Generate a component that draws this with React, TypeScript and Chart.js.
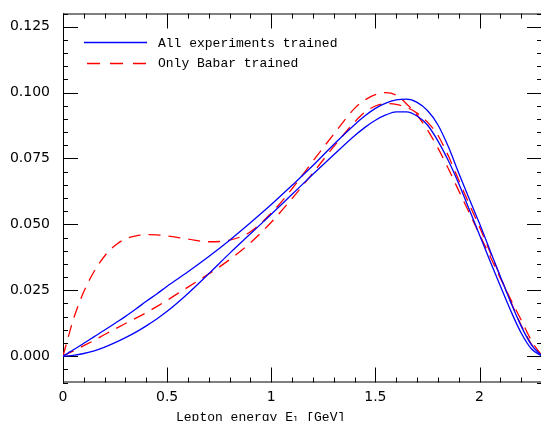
import React, { useEffect, useRef } from "react";
import { Chart, registerables } from "chart.js";

Chart.register(...registerables);

// ---- data ----
const energy = [
  0, 0.025, 0.05, 0.1, 0.15, 0.2, 0.25, 0.3, 0.35, 0.4, 0.45, 0.5, 0.6, 0.7, 0.8, 0.9, 1.0, 1.1, 1.2, 1.3,
  1.4, 1.45, 1.5, 1.55, 1.6, 1.65, 1.7, 1.75, 1.8, 1.85, 1.9, 1.95, 2.0, 2.05, 2.1, 2.15, 2.2, 2.25, 2.3,
];

const allTrainedUpper = [
  0, 0.0012, 0.0024, 0.0049, 0.0074, 0.0099, 0.0125, 0.0151, 0.0179, 0.0208, 0.0236, 0.0265, 0.032, 0.0378,
  0.044, 0.0506, 0.0575, 0.0648, 0.0723, 0.0803, 0.0878, 0.0912, 0.094, 0.096, 0.0972, 0.0975, 0.0963,
  0.0932, 0.0878, 0.0795, 0.0695, 0.0598, 0.0503, 0.0402, 0.0302, 0.0204, 0.0114, 0.0042, 0,
];

const allTrainedLower = [
  0, 0.0001, 0.0003, 0.001, 0.002, 0.0034, 0.0051, 0.007, 0.0091, 0.0115, 0.0141, 0.017, 0.0238, 0.0313,
  0.039, 0.0464, 0.0538, 0.0614, 0.069, 0.0764, 0.0836, 0.0868, 0.0895, 0.0915, 0.0927, 0.0927, 0.0911,
  0.0877, 0.0817, 0.0742, 0.0655, 0.0558, 0.046, 0.0362, 0.0266, 0.0172, 0.0088, 0.0027, 0,
];

const babarTrainedHigh = [
  0, 0.0072, 0.014, 0.0245, 0.0322, 0.038, 0.042, 0.0445, 0.0456, 0.0461, 0.046, 0.0456, 0.0444, 0.0434,
  0.044, 0.0472, 0.0543, 0.0635, 0.074, 0.0842, 0.094, 0.0972, 0.0992, 0.1, 0.099, 0.0957, 0.0915, 0.0858,
  0.079, 0.0712, 0.0628, 0.0545, 0.0462, 0.038, 0.0296, 0.0215, 0.0137, 0.0058, 0,
];

const babarTrainedLow = [
  0, 0.001, 0.002, 0.004, 0.006, 0.0082, 0.0103, 0.0124, 0.0144, 0.0165, 0.0188, 0.0212, 0.0262, 0.0312,
  0.0366, 0.043, 0.0508, 0.0598, 0.0695, 0.0795, 0.0888, 0.0926, 0.0949, 0.0958, 0.0955, 0.0944, 0.0922,
  0.0888, 0.0838, 0.076, 0.0668, 0.0578, 0.049, 0.0396, 0.0302, 0.0207, 0.0117, 0.0045, 0,
];

const seriesLabels = ["All experiments trained", "Only Babar trained"];
const xTickValues = [0, 0.5, 1, 1.5, 2];
const xTickLabels = ["0", "0.5", "1", "1.5", "2"];
const yTickValues = [0, 0.025, 0.05, 0.075, 0.1, 0.125];
const yTickLabels = ["0.000", "0.025", "0.050", "0.075", "0.100", "0.125"];
const xTitleMain = "Lepton energy E";
const xTitleSub = "l";
const xTitleUnit = " [GeV]";

const BLUE = "#0000ff";
const RED = "#ff0000";
const DASH = [12, 8];
const MONO = "'Liberation Mono', 'DejaVu Sans Mono', monospace";
const SANS = "'DejaVu Sans', sans-serif";

const toPoints = (ys: number[]) => energy.map((e, i) => ({ x: e, y: ys[i] }));

const framePlugin = {
  id: "frameTicks",
  beforeDatasetsDraw(chart: any) {
    const { ctx, chartArea: a, scales } = chart;
    const xs = scales.x;
    const ys = scales.y;
    ctx.save();
    ctx.strokeStyle = "#000";
    ctx.lineWidth = 1;
    ctx.beginPath();
    ctx.moveTo(a.left + 0.5, a.top);
    ctx.lineTo(a.left + 0.5, a.bottom);
    ctx.moveTo(a.left, a.top + 0.5);
    ctx.lineTo(a.right, a.top + 0.5);
    ctx.moveTo(a.left, a.bottom - 0.5);
    ctx.lineTo(a.right, a.bottom - 0.5);
    ctx.moveTo(a.right - 0.5, a.top);
    ctx.lineTo(a.right - 0.5, a.bottom);
    ctx.stroke();

    const MAJ = 15;
    const MIN = 5;
    for (let i = 0; i <= 23; i++) {
      const v = i / 10;
      const px = Math.round(xs.getPixelForValue(v)) + 0.5;
      const len = i % 5 === 0 ? MAJ : MIN;
      ctx.beginPath();
      ctx.moveTo(px, a.bottom);
      ctx.lineTo(px, a.bottom - len);
      ctx.moveTo(px, a.top);
      ctx.lineTo(px, a.top + len);
      ctx.stroke();
    }
    for (let i = -2; i <= 26; i++) {
      const v = i * 0.005;
      const py = Math.round(ys.getPixelForValue(v)) + 0.5;
      const len = i % 5 === 0 ? MAJ : MIN;
      ctx.beginPath();
      ctx.moveTo(a.left, py);
      ctx.lineTo(a.left + len, py);
      ctx.moveTo(a.right, py);
      ctx.lineTo(a.right - len, py);
      ctx.stroke();
    }
    ctx.restore();
  },
  afterDraw(chart: any) {
    const { ctx } = chart;
    ctx.save();
    ctx.lineWidth = 1.3;
    ctx.strokeStyle = BLUE;
    ctx.setLineDash([]);
    ctx.beginPath();
    ctx.moveTo(84, 42.5);
    ctx.lineTo(147, 42.5);
    ctx.stroke();
    ctx.strokeStyle = RED;
    ctx.setLineDash([13, 10]);
    ctx.beginPath();
    ctx.moveTo(87, 63.5);
    ctx.lineTo(147, 63.5);
    ctx.stroke();
    ctx.setLineDash([]);
    ctx.fillStyle = "#000";
    ctx.font = `13px ${MONO}`;
    ctx.textBaseline = "alphabetic";
    ctx.textAlign = "left";
    ctx.fillText(seriesLabels[0], 158, 46.5);
    ctx.fillText(seriesLabels[1], 158, 67);

    let x = 176;
    const base = 421;
    ctx.font = `13px ${MONO}`;
    ctx.fillText(xTitleMain, x, base);
    x += ctx.measureText(xTitleMain).width;
    ctx.font = `9px ${MONO}`;
    ctx.fillText(xTitleSub, x, base + 2);
    x += ctx.measureText(xTitleSub).width;
    ctx.font = `13px ${MONO}`;
    ctx.fillText(xTitleUnit, x, base);
    ctx.restore();
  },
};

export default function App() {
  const canvasRef = useRef<HTMLCanvasElement | null>(null);

  useEffect(() => {
    const canvas = canvasRef.current;
    if (!canvas) return;
    const common = {
      borderWidth: 1.3,
      pointRadius: 0,
      fill: false,
      cubicInterpolationMode: "monotone",
    };
    const chart = new Chart(canvas, {
      type: "line",
      data: {
        datasets: [
          { ...common, label: seriesLabels[0], data: toPoints(allTrainedUpper), borderColor: BLUE },
          { ...common, label: seriesLabels[0], data: toPoints(allTrainedLower), borderColor: BLUE },
          { ...common, label: seriesLabels[1], data: toPoints(babarTrainedHigh), borderColor: RED, borderDash: DASH },
          { ...common, label: seriesLabels[1], data: toPoints(babarTrainedLow), borderColor: RED, borderDash: DASH },
        ],
      } as any,
      options: {
        responsive: false,
        animation: false,
        devicePixelRatio: 1,
        layout: { padding: { top: 13.5, right: 2, left: 0, bottom: 0 } },
        plugins: { legend: { display: false }, tooltip: { enabled: false } },
        scales: {
          x: {
            type: "linear",
            min: 0,
            max: 2.3,
            grid: { display: false, drawTicks: false },
            border: { display: false },
            afterBuildTicks: (s: any) => {
              s.ticks = xTickValues.map((v) => ({ value: v }));
            },
            afterFit: (s: any) => {
              s.height = 38.5;
              s.paddingLeft = 0;
              s.paddingRight = 0;
            },
            ticks: {
              padding: 6,
              color: "#000",
              font: { family: SANS, size: 14 },
              maxRotation: 0,
              autoSkip: false,
              callback: (_v: any, i: number) => xTickLabels[i],
            },
          },
          y: {
            type: "linear",
            min: -0.01,
            max: 0.13,
            grid: { display: false, drawTicks: false },
            border: { display: false },
            afterBuildTicks: (s: any) => {
              s.ticks = yTickValues.map((v) => ({ value: v }));
            },
            afterFit: (s: any) => {
              s.width = 63;
              s.paddingTop = 0;
              s.paddingBottom = 0;
            },
            ticks: {
              padding: 13,
              color: "#000",
              font: { family: SANS, size: 14 },
              autoSkip: false,
              callback: (_v: any, i: number) => yTickLabels[i],
            },
          },
        },
      } as any,
      plugins: [framePlugin],
    });
    return () => chart.destroy();
  }, []);

  return (
    <div
      style={{
        position: "fixed",
        left: 0,
        top: 0,
        width: 541,
        height: 421,
        overflow: "hidden",
        background: "#fff",
      }}
    >
      <canvas ref={canvasRef} width={544} height={421} style={{ display: "block" }} />
    </div>
  );
}
